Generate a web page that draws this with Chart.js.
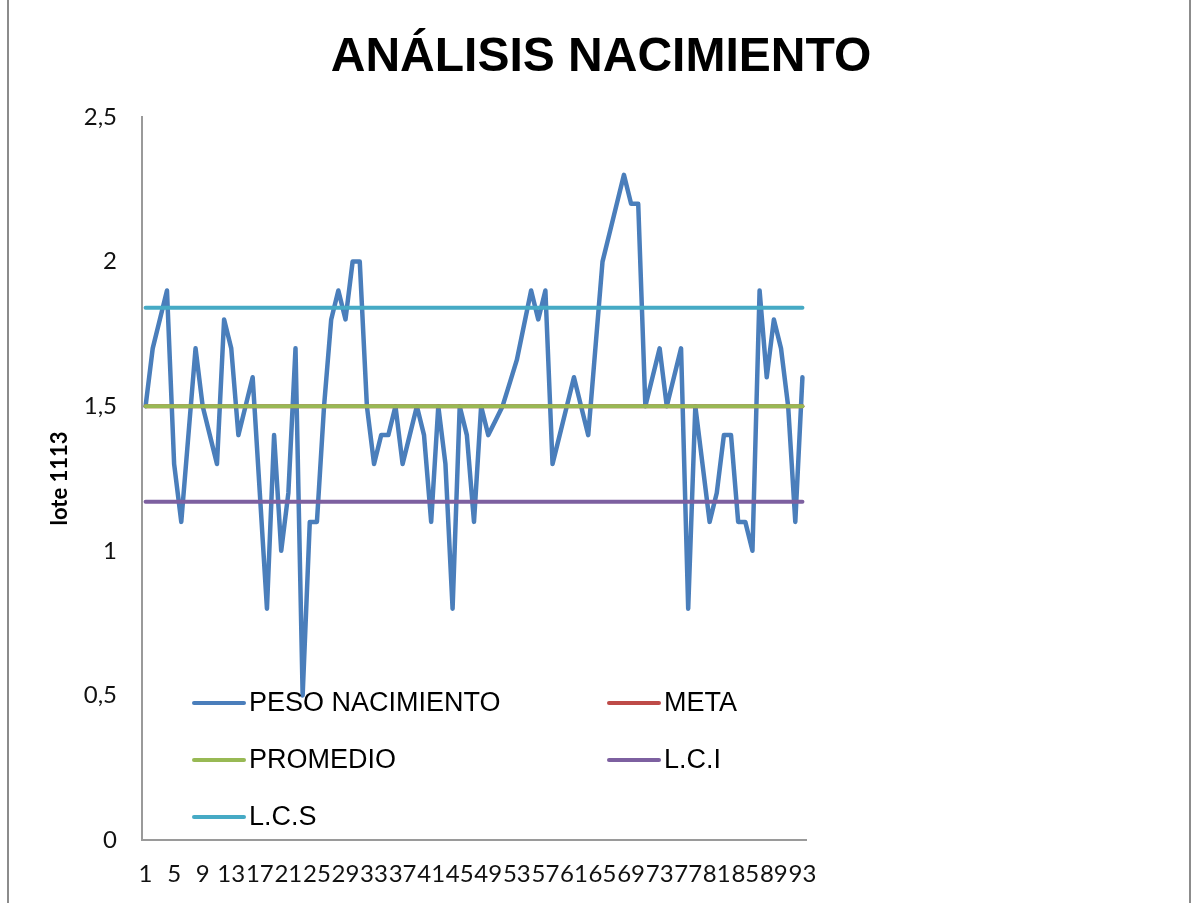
<!DOCTYPE html>
<html><head><meta charset="utf-8">
<script src="https://cdn.jsdelivr.net/npm/chart.js@4.4.0/dist/chart.umd.min.js"></script>
<style>
html,body{margin:0;padding:0;background:#fff;}
#wrap{position:relative;width:1198px;height:903px;overflow:hidden;background:#fff;}
canvas{position:absolute;left:0;top:0;}
.frame{position:absolute;top:0;width:2px;height:903px;background:#8c8c8c;}
</style></head><body>
<div id="wrap"><canvas id="c" width="1198" height="903"></canvas>
<div class="frame" style="left:7px"></div><div class="frame" style="left:1189px"></div></div>
<script>
const chartTitle = 'ANÁLISIS NACIMIENTO';
const yAxisTitle = 'lote 1113';
const categories = [
 '1','2','3','4','5','6','7','8','9','10',
 '11','12','13','14','15','16','17','18','19','20',
 '21','22','23','24','25','26','27','28','29','30',
 '31','32','33','34','35','36','37','38','39','40',
 '41','42','43','44','45','46','47','48','49','50',
 '51','52','53','54','55','56','57','58','59','60',
 '61','62','63','64','65','66','67','68','69','70',
 '71','72','73','74','75','76','77','78','79','80',
 '81','82','83','84','85','86','87','88','89','90',
 '91','92','93'];
const xTickLabels = ['1','5','9','13','17','21','25','29','33','37','41','45','49','53','57','61','65','69','73','77','81','85','89','93'];
const yTickValues = [0, 0.5, 1, 1.5, 2, 2.5];

const pesoNacimiento = [
 1.5,1.7,1.8,1.9,1.3,1.1,1.4,1.7,1.5,1.4,
 1.3,1.8,1.7,1.4,1.5,1.6,1.2,0.8,1.4,1.0,
 1.2,1.7,0.5,1.1,1.1,1.5,1.8,1.9,1.8,2.0,
 2.0,1.5,1.3,1.4,1.4,1.5,1.3,1.4,1.5,1.4,
 1.1,1.5,1.3,0.8,1.5,1.4,1.1,1.5,1.4,1.45,
 1.5,1.58,1.66,1.78,1.9,1.8,1.9,1.3,1.4,1.5,
 1.6,1.5,1.4,1.7,2.0,2.1,2.2,2.3,2.2,2.2,
 1.5,1.6,1.7,1.5,1.6,1.7,0.8,1.5,1.3,1.1,
 1.2,1.4,1.4,1.1,1.1,1.0,1.9,1.6,1.8,1.7,
 1.5,1.1,1.6];
const meta = [
 1.5,1.5,1.5,1.5,1.5,1.5,1.5,1.5,1.5,1.5,
 1.5,1.5,1.5,1.5,1.5,1.5,1.5,1.5,1.5,1.5,
 1.5,1.5,1.5,1.5,1.5,1.5,1.5,1.5,1.5,1.5,
 1.5,1.5,1.5,1.5,1.5,1.5,1.5,1.5,1.5,1.5,
 1.5,1.5,1.5,1.5,1.5,1.5,1.5,1.5,1.5,1.5,
 1.5,1.5,1.5,1.5,1.5,1.5,1.5,1.5,1.5,1.5,
 1.5,1.5,1.5,1.5,1.5,1.5,1.5,1.5,1.5,1.5,
 1.5,1.5,1.5,1.5,1.5,1.5,1.5,1.5,1.5,1.5,
 1.5,1.5,1.5,1.5,1.5,1.5,1.5,1.5,1.5,1.5,
 1.5,1.5,1.5];
const promedio = [
 1.5,1.5,1.5,1.5,1.5,1.5,1.5,1.5,1.5,1.5,
 1.5,1.5,1.5,1.5,1.5,1.5,1.5,1.5,1.5,1.5,
 1.5,1.5,1.5,1.5,1.5,1.5,1.5,1.5,1.5,1.5,
 1.5,1.5,1.5,1.5,1.5,1.5,1.5,1.5,1.5,1.5,
 1.5,1.5,1.5,1.5,1.5,1.5,1.5,1.5,1.5,1.5,
 1.5,1.5,1.5,1.5,1.5,1.5,1.5,1.5,1.5,1.5,
 1.5,1.5,1.5,1.5,1.5,1.5,1.5,1.5,1.5,1.5,
 1.5,1.5,1.5,1.5,1.5,1.5,1.5,1.5,1.5,1.5,
 1.5,1.5,1.5,1.5,1.5,1.5,1.5,1.5,1.5,1.5,
 1.5,1.5,1.5];
const lci = [
 1.17,1.17,1.17,1.17,1.17,1.17,1.17,1.17,1.17,1.17,
 1.17,1.17,1.17,1.17,1.17,1.17,1.17,1.17,1.17,1.17,
 1.17,1.17,1.17,1.17,1.17,1.17,1.17,1.17,1.17,1.17,
 1.17,1.17,1.17,1.17,1.17,1.17,1.17,1.17,1.17,1.17,
 1.17,1.17,1.17,1.17,1.17,1.17,1.17,1.17,1.17,1.17,
 1.17,1.17,1.17,1.17,1.17,1.17,1.17,1.17,1.17,1.17,
 1.17,1.17,1.17,1.17,1.17,1.17,1.17,1.17,1.17,1.17,
 1.17,1.17,1.17,1.17,1.17,1.17,1.17,1.17,1.17,1.17,
 1.17,1.17,1.17,1.17,1.17,1.17,1.17,1.17,1.17,1.17,
 1.17,1.17,1.17];
const lcs = [
 1.84,1.84,1.84,1.84,1.84,1.84,1.84,1.84,1.84,1.84,
 1.84,1.84,1.84,1.84,1.84,1.84,1.84,1.84,1.84,1.84,
 1.84,1.84,1.84,1.84,1.84,1.84,1.84,1.84,1.84,1.84,
 1.84,1.84,1.84,1.84,1.84,1.84,1.84,1.84,1.84,1.84,
 1.84,1.84,1.84,1.84,1.84,1.84,1.84,1.84,1.84,1.84,
 1.84,1.84,1.84,1.84,1.84,1.84,1.84,1.84,1.84,1.84,
 1.84,1.84,1.84,1.84,1.84,1.84,1.84,1.84,1.84,1.84,
 1.84,1.84,1.84,1.84,1.84,1.84,1.84,1.84,1.84,1.84,
 1.84,1.84,1.84,1.84,1.84,1.84,1.84,1.84,1.84,1.84,
 1.84,1.84,1.84];

const seriesNames = ['PESO NACIMIENTO', 'META', 'PROMEDIO', 'L.C.I', 'L.C.S'];
const seriesColors = ['#4A7EBB', '#BE4B48', '#98B954', '#7D60A0', '#46AAC5'];

function ds(i, data, order, width) {
  return {
    label: seriesNames[i], data: data,
    borderColor: seriesColors[i], backgroundColor: seriesColors[i],
    borderWidth: width, pointRadius: 0, pointHoverRadius: 0, tension: 0,
    borderJoinStyle: 'round', borderCapStyle: 'round', fill: false, order: order
  };
}

const decorPlugin = {
  id: 'excelDecor',
  afterDraw(chart) {
    const ctx = chart.ctx;
    ctx.save();
    ctx.fillStyle = '#000';
    ctx.font = 'bold 48px "Liberation Sans", Arial, sans-serif';
    ctx.textAlign = 'center';
    ctx.textBaseline = 'middle';
    ctx.fillText(chartTitle, 601, 58);
    const slots = [[192, 703], [607, 703], [192, 760], [607, 760], [192, 817]];
    chart.data.datasets.forEach((d, i) => {
      const [x, y] = slots[i];
      ctx.strokeStyle = d.borderColor;
      ctx.lineWidth = 4;
      ctx.lineCap = 'round';
      ctx.beginPath();
      ctx.moveTo(x + 2, y);
      ctx.lineTo(x + 52, y);
      ctx.stroke();
      ctx.fillStyle = '#000';
      ctx.font = '27px "Liberation Sans", Arial, sans-serif';
      ctx.textBaseline = 'middle';
      ctx.textAlign = 'left';
      ctx.fillText(d.label, x + 57, y + 1);
    });
    ctx.restore();
  }
};

new Chart(document.getElementById('c'), {
  type: 'line',
  data: {
    labels: categories,
    datasets: [
      ds(0, pesoNacimiento, 4, 4.5),
      ds(1, meta, 3, 4),
      ds(2, promedio, 2, 4),
      ds(3, lci, 1, 4),
      ds(4, lcs, 0, 4)
    ]
  },
  options: {
    responsive: false,
    devicePixelRatio: 1,
    animation: false,
    layout: { padding: { left: 0, right: 392, top: 117, bottom: 0 } },
    plugins: {
      legend: { display: false },
      tooltip: { enabled: false },
      title: { display: false }
    },
    scales: {
      x: {
        type: 'category',
        offset: true,
        afterFit(scale) { scale.height = 63; },
        grid: { display: false, drawTicks: false },
        border: { display: true, color: '#9a9a9a', width: 2 },
        ticks: {
          autoSkip: false, maxRotation: 0, minRotation: 0, padding: 20,
          color: '#111',
          font: { family: 'Lato, sans-serif', size: 24 },
          callback: function (value) {
            const lab = this.getLabelForValue(value);
            return xTickLabels.includes(lab) ? lab : '';
          }
        }
      },
      y: {
        min: 0, max: 2.5,
        afterFit(scale) { scale.width = 142; },
        afterBuildTicks(scale) { scale.ticks = yTickValues.map(v => ({ value: v })); },
        grid: { display: false, drawTicks: false },
        border: { display: true, color: '#9a9a9a', width: 2 },
        title: {
          display: true, text: yAxisTitle, color: '#000',
          font: { family: 'Lato, sans-serif', size: 22, weight: 'bold' },
          padding: { top: 47, bottom: 0 }
        },
        ticks: {
          padding: 25, color: '#111',
          font: { family: 'Lato, sans-serif', size: 24 },
          callback: v => String(v).replace('.', ',')
        }
      }
    }
  },
  plugins: [decorPlugin]
});
</script>
</body></html>
